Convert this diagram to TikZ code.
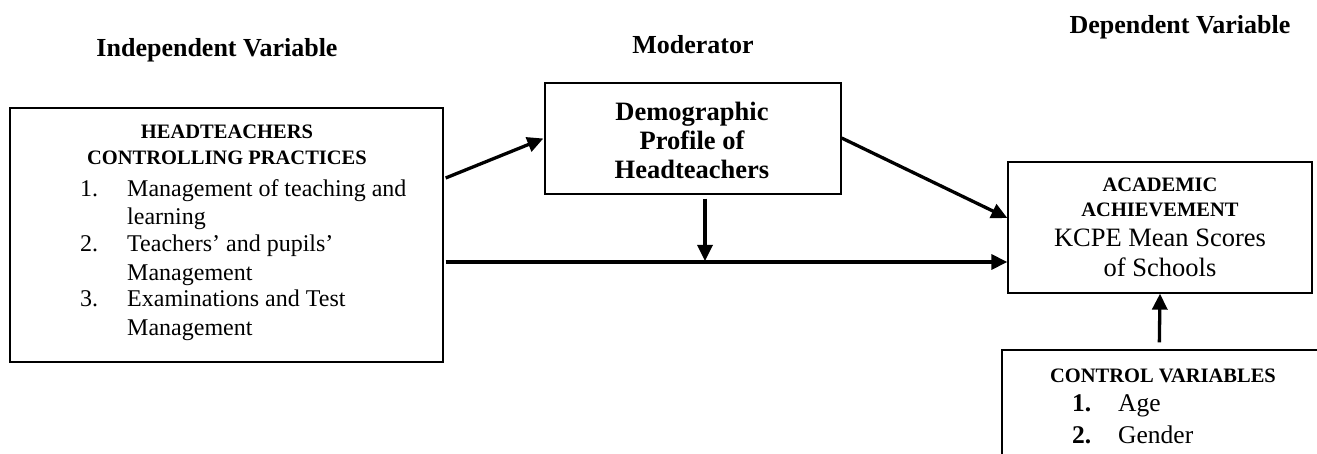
\documentclass[tikz,border=0pt]{standalone}
\usepackage{fontspec}
\setmainfont{Liberation Serif}
\usetikzlibrary{arrows.meta}
\begin{document}
\begin{tikzpicture}[x=1pt,y=-1pt,
  box/.style={draw,line width=1.3pt,rectangle,inner sep=0pt},
  conn/.style={line width=3.3pt,-{Triangle[length=16pt,width=15pt]}},
  txt/.style={inner sep=0pt,anchor=base},
  title/.style={txt,font=\fontsize{26}{30}\selectfont\bfseries},
  caps/.style={txt,font=\fontsize{20.5}{24}\selectfont\bfseries},
  big/.style={txt,font=\fontsize{26.5}{30}\selectfont\bfseries},
  item/.style={txt,anchor=base west,font=\fontsize{24}{28}\selectfont},
  kcpe/.style={txt,font=\fontsize{26.5}{30}\selectfont},
  citem/.style={txt,anchor=base west,font=\fontsize{25.5}{30}\selectfont},
  cnum/.style={citem,font=\fontsize{25.5}{30}\selectfont\bfseries}
]
\useasboundingbox (0,0) rectangle (1317,454);
\clip (0,0) rectangle (1317,454);

% titles
\node[title] (tind) at (217,57) {Independent Variable};
\node[title] (tmod) at (693,54) {Moderator};
\node[title] (tdep) at (1180,34) {Dependent Variable};

% boxes
\node[box,minimum width=433pt,minimum height=254pt] (left) at (226.5,235) {};
\node[box,minimum width=296pt,minimum height=111pt] (mod) at (693,138.5) {};
\node[box,minimum width=304pt,minimum height=131pt] (acad) at (1160,227.5) {};
\node[box,minimum width=328pt,minimum height=120pt] (ctrl) at (1166,410) {};

% left box text
\node[caps] (l1) at (227,139) {HEADTEACHERS};
\node[caps] (l2) at (227,165) {CONTROLLING PRACTICES};
\node[item] (n1) at (80,197) {1.};
\node[item] (i1) at (127,197) {Management of teaching and};
\node[item] (i1b) at (127,225) {learning};
\node[item] (n2) at (80,252) {2.};
\node[item] (i2) at (127,252) {Teachers’ and pupils’};
\node[item] (i2b) at (127,280) {Management};
\node[item] (n3) at (80,307) {3.};
\node[item] (i3) at (127,307) {Examinations and Test};
\node[item] (i3b) at (127,335) {Management};

% moderator text
\node[big] (m1) at (692,121) {Demographic};
\node[big] (m2) at (692,150) {Profile of};
\node[big] (m3) at (692,179) {Headteachers};

% academic text
\node[caps] (a1) at (1160,192) {ACADEMIC};
\node[caps] (a2) at (1160,217) {ACHIEVEMENT};
\node[kcpe] (a3) at (1160,247) {KCPE Mean Scores};
\node[kcpe] (a4) at (1160,277) {of Schools};

% control text
\node[caps] (c1) at (1163,382) {CONTROL VARIABLES};
\node[cnum] (cn1) at (1072,411) {1.};
\node[citem] (ci1) at (1118,411) {Age};
\node[cnum] (cn2) at (1072,443) {2.};
\node[citem] (ci2) at (1118,443) {Gender};

% connectors
\coordinate (j) at (705,261);
\draw[conn] ([xshift=2pt,yshift=57pt]left.east) -- ([xshift=-1pt]mod.west);
\draw[conn] ([yshift=0.5pt]mod.east) -- ([yshift=9.5pt]acad.west);
\draw[conn] ([xshift=12pt,yshift=-4pt]mod.south) -- (j);
\draw[conn] ([xshift=2pt,yshift=-27pt]left.east) -- ([yshift=-34.5pt]acad.west);
\draw[conn] ([xshift=158pt,yshift=7pt]ctrl.north west) -- (acad.south);
\end{tikzpicture}
\end{document}
